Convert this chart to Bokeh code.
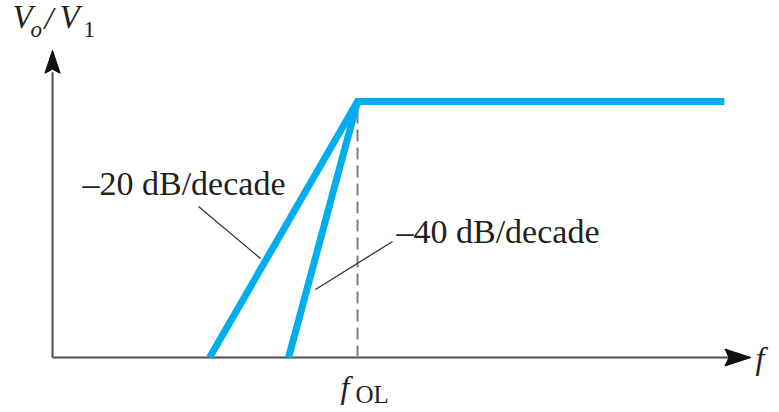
from bokeh.plotting import figure
from bokeh.models import Range1d
from bokeh.core.properties import value
from bokeh.embed import file_html
from bokeh.resources import INLINE

# Asymptotic gain of a high-pass response, frequency normalised to f_OL
passband_gain = 1.0
corner_freq = 1.0
f_20 = [0.515, corner_freq, 2.203]          # -20 dB/decade asymptote then flat
g_20 = [0.0, passband_gain, passband_gain]
f_40 = [0.774, corner_freq]                  # -40 dB/decade asymptote
g_40 = [0.0, passband_gain]
slope_labels = ["\u201320 dB/decade", "\u201340 dB/decade"]
x_axis_len = 2.29
y_axis_len = 1.2

W, H = 779, 412
X0, XS = 52, 305.0     # pixel of f=0 and pixels per unit
Y0, YS = 357, 256.0    # pixel row of gain=0 and pixels per unit
LIFT = 0.34            # baseline correction for SVG text, in em


def dx(px):
    return px / XS


def dy(px):
    return px / YS


def X(px):
    return (px - X0) / XS


def Y(py):
    return (Y0 - py) / YS


p = figure(width=W, height=H, output_backend="svg", toolbar_location=None,
           x_range=Range1d(X(0), X(W)), y_range=Range1d(Y(H), Y(0)),
           min_border=0, outline_line_color=None)
p.axis.visible = False
p.grid.visible = False
p.background_fill_color = "white"
p.border_fill_color = "white"

AX = "#4d4d4d"
INK = "#231f20"
BLUE = "#00aeef"
SERIF = value("Liberation Serif")

# axes with arrowheads
head_len, head_half, notch = 26, 8.5, 4
p.line([0, x_axis_len - dx(head_len - notch)], [0, 0], line_color=AX, line_width=2)
p.line([0, 0], [0, y_axis_len - dy(head_len - notch)], line_color=AX, line_width=2)
p.patch([x_axis_len, x_axis_len - dx(head_len), x_axis_len - dx(head_len - notch), x_axis_len - dx(head_len)],
        [0, dy(head_half), 0, -dy(head_half)], fill_color="#111111", line_color="#111111", line_width=1)
p.patch([0, -dx(head_half * 0.9), 0, dx(head_half * 0.9)],
        [y_axis_len, y_axis_len - dy(head_len - 3), y_axis_len - dy(head_len - 3 - notch), y_axis_len - dy(head_len - 3)],
        fill_color="#111111", line_color="#111111", line_width=1)

# corner frequency marker
p.line([corner_freq, corner_freq], [0, passband_gain], line_color="#7f7f7f",
       line_width=2, line_dash="12 6")

# asymptotes
p.line(f_40, g_40, line_color=BLUE, line_width=7, line_join="miter")
p.line(f_20, g_20, line_color=BLUE, line_width=7, line_join="miter")

# leader lines
p.line([X(198), X(260)], [Y(206), Y(258)], line_color="#333333", line_width=1.3)
p.line([X(392), X(315)], [Y(241), Y(289)], line_color="#333333", line_width=1.3)


def word(x, y, s, size, style="normal"):
    p.text(x=[X(x)], y=[Y(y - LIFT * size)], text=[s], text_font=SERIF,
           text_font_size=f"{size}px", text_font_style=style, text_color=INK,
           text_baseline="alphabetic", text_align="left")


# slope labels
word(82, 195, slope_labels[0], 34)
word(396, 243, slope_labels[1], 34)

# y-axis title V_o / V_1
word(12, 28, "V", 33, "italic")
word(30, 37, "o", 23, "italic")
word(44, 28, "/", 32, "italic")
word(59, 28, "V", 33, "italic")
word(83, 37, "1", 23)

# x-axis title and corner label
word(755, 368, "f", 32, "italic")
word(340, 397, "f", 32, "italic")
word(355, 402, "OL", 25)

open("out.html", "w").write(file_html(p, INLINE))
